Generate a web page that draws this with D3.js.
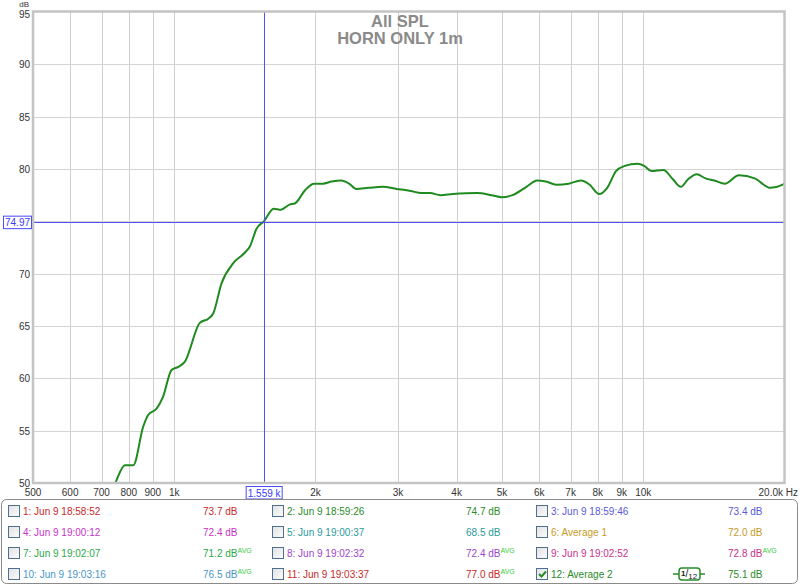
<!DOCTYPE html>
<html><head><meta charset="utf-8">
<script src="https://cdn.jsdelivr.net/npm/d3@7"></script>
<style>
html,body{margin:0;padding:0;background:#fff;}
svg{display:block;font-family:"Liberation Sans",Arial,sans-serif;}
</style></head>
<body>
<svg id="chart" width="800" height="586"></svg>
<script>
// ---- data ----
const freqHz = [700,729,754,785,818,859,880,917,946,987,1020,1054,1134,1182,1211,1262,1336,1414,1450,1498,1553,
  1629,1688,1761,1807,1903,1986,2074,2166,2269,2360,2443,2596,2782,2979,3192,3361,3510,3695,3924,4427,4744,4995,5261,
  5636,5938,6197,6527,6934,7361,7688,8053,8377,8746,9131,9704,10046,10396,11041,11523,12030,12450,13002,13575,14173,
  14922,15990,17279,18673,19836,20000];
const splDb = [45.5,48.5,50.3,51.7,51.7,55.4,56.5,57.1,58.2,60.8,61.1,61.6,65.3,65.7,66.2,69.1,71.0,72.0,72.6,74.3,75.0,
  76.2,76.1,76.6,76.7,78.0,78.6,78.6,78.8,78.9,78.6,78.1,78.2,78.3,78.1,77.9,77.7,77.7,77.5,77.6,77.7,77.5,77.3,77.5,
  78.3,78.9,78.8,78.5,78.6,78.9,78.5,77.6,78.2,79.8,80.3,80.5,80.3,79.8,79.9,79.1,78.3,79.0,79.5,79.1,78.9,
  78.6,79.4,79.1,78.2,78.5,78.6];
const xTickValues = [500,600,700,800,900,1000,2000,3000,4000,5000,6000,7000,8000,9000,10000];
const xTickLabels = ["500","600","700","800","900","1k","2k","3k","4k","5k","6k","7k","8k","9k","10k"];
const xGridValues = [600,700,800,900,1000,2000,3000,4000,5000,6000,7000,8000,9000,10000];
const yTickValues = [50,55,60,65,70,75,80,85,90,95];
const titleLines = ["All SPL","HORN ONLY 1m"];
const cursorFreq = 1559, cursorFreqLabel = "1.559 k";
const cursorDb = 74.97, cursorDbLabel = "74.97";
const legendLabels = ["1: Jun 9 18:58:52","2: Jun 9 18:59:26","3: Jun 9 18:59:46",
  "4: Jun 9 19:00:12","5: Jun 9 19:00:37","6: Average 1",
  "7: Jun 9 19:02:07","8: Jun 9 19:02:32","9: Jun 9 19:02:52",
  "10: Jun 9 19:03:16","11: Jun 9 19:03:37","12: Average 2"];
const legendValues = ["73.7 dB","74.7 dB","73.4 dB","72.4 dB","68.5 dB","72.0 dB",
  "71.2 dB","72.4 dB","72.8 dB","76.5 dB","77.0 dB","75.1 dB"];
const legendAvg = [false,false,false,false,false,false,true,true,true,true,true,false];
const legendChecked = [false,false,false,false,false,false,false,false,false,false,false,true];
const legendColors = ["#c8282a","#2a8a2a","#5a5ad8","#c832c8","#2a9a9a","#c89a28",
  "#2aa84a","#9a46c8","#c8328a","#4a96c8","#c82828","#2a8a2a"];

// ---- layout ----
const svg = d3.select("#chart");
const L = 33, R = 784.5, T = 12, B = 483;
const x = d3.scaleLog().domain([500,20000]).range([L,R]);
const y = d3.scaleLinear().domain([50,95]).range([B,T]);

// gridlines
svg.append("g").selectAll("line").data(xGridValues).join("line")
  .attr("x1",d=>Math.round(x(d))+0.5).attr("x2",d=>Math.round(x(d))+0.5)
  .attr("y1",T).attr("y2",B).attr("stroke","#cfcfcf").attr("stroke-width",1);
svg.append("g").selectAll("line").data(yTickValues.slice(1,-1)).join("line")
  .attr("x1",L).attr("x2",R)
  .attr("y1",d=>Math.round(y(d))+0.5).attr("y2",d=>Math.round(y(d))+0.5)
  .attr("stroke","#d4d4d4").attr("stroke-width",1);

// title
svg.append("g").selectAll("text").data(titleLines).join("text")
  .attr("x",400).attr("y",(d,i)=>27+i*16.5).attr("text-anchor","middle")
  .attr("font-size",16.5).attr("font-weight","bold").attr("fill","#8a8a8a").text(d=>d);

// curve
svg.append("clipPath").attr("id","clip").append("rect").attr("x",L).attr("y",T).attr("width",R-L).attr("height",B-T);
const pts = freqHz.map((f,i)=>[f,splDb[i]]);
svg.append("path").datum(pts).attr("clip-path","url(#clip)")
  .attr("d",d3.line().x(d=>x(d[0])).y(d=>y(d[1])).curve(d3.curveMonotoneX))
  .attr("fill","none").attr("stroke","#1f8a1f").attr("stroke-width",2);

// cursor lines
const cxr = Math.round(x(cursorFreq))-0.5;
svg.append("line").attr("x1",cxr).attr("x2",cxr)
  .attr("y1",T).attr("y2",B).attr("stroke","#5050ff").attr("stroke-width",1);
svg.append("line").attr("x1",L).attr("x2",R).attr("y1",Math.round(y(cursorDb))+0.5).attr("y2",Math.round(y(cursorDb))+0.5)
  .attr("stroke","#5050ff").attr("stroke-width",1);

// frame
svg.append("rect").attr("x",L).attr("y",T-0.5).attr("width",R-L).attr("height",B-T+0.5)
  .attr("fill","none").attr("stroke","#c4c4c4").attr("stroke-width",2.5);

// y axis labels (the 75 label is hidden under the cursor read-out, as in the reference)
svg.append("g").selectAll("text").data(yTickValues.filter(v=>Math.abs(y(v)-y(cursorDb))>8)).join("text")
  .attr("x",30).attr("y",d=>d===95 ? y(d)+6 : y(d)+4).attr("text-anchor","end")
  .attr("font-size",10).attr("fill","#333").text(d=>d);
svg.append("text").attr("x",29).attr("y",7.2).attr("text-anchor","end").attr("font-size",8).attr("fill","#333").text("dB");

// x axis labels
svg.append("g").selectAll("text").data(xTickValues).join("text")
  .attr("x",d=>x(d)).attr("y",496).attr("text-anchor","middle")
  .attr("font-size",10).attr("fill","#333").text((d,i)=>xTickLabels[i]);
svg.append("text").attr("x",798).attr("y",496).attr("text-anchor","end").attr("font-size",10).attr("fill","#333").text("20.0k Hz");

// cursor boxes
const cx = x(cursorFreq);
svg.append("rect").attr("x",cx-18.5).attr("y",486.5).attr("width",36).attr("height",12.5)
  .attr("fill","#fff").attr("stroke","#4a4aff").attr("stroke-width",1);
svg.append("text").attr("x",cx-0.5).attr("y",496.5).attr("text-anchor","middle").attr("font-size",10).attr("fill","#3a3aff").text(cursorFreqLabel);
const cy = y(cursorDb);
svg.append("rect").attr("x",3.5).attr("y",cy-5.5).attr("width",28).attr("height",12.5)
  .attr("fill","#fff").attr("stroke","#4a4aff").attr("stroke-width",1);
svg.append("text").attr("x",17.5).attr("y",cy+4.5).attr("text-anchor","middle").attr("font-size",10).attr("fill","#3a3aff").text(cursorDbLabel);

// legend
svg.append("rect").attr("x",1.5).attr("y",499.5).attr("width",796).attr("height",84).attr("rx",5)
  .attr("fill","#fff").attr("stroke","#8a8a8a").attr("stroke-width",1);
const colCheck = [8,272,536], colText = [23,287,551], colVal = [203,466,728];
const rowY = [511,532,553,574];
const grad = svg.append("defs").append("linearGradient").attr("id","cbg").attr("x1",0).attr("y1",0).attr("x2",1).attr("y2",1);
grad.append("stop").attr("offset","0%").attr("stop-color","#e0e0e0");
grad.append("stop").attr("offset","100%").attr("stop-color","#fdfdfd");
legendLabels.forEach((lab,i)=>{
  const r = Math.floor(i/3), c = i%3, yy = rowY[r];
  svg.append("rect").attr("x",colCheck[c]+0.5).attr("y",yy-5.5).attr("width",11).attr("height",11)
    .attr("fill","url(#cbg)").attr("stroke","#4f6f90").attr("stroke-width",1);
  if (legendChecked[i]) {
    svg.append("path").attr("d",`M${colCheck[c]+3},${yy} l2.5,2.5 l4.5,-5`)
      .attr("fill","none").attr("stroke","#2a8a2a").attr("stroke-width",2);
  }
  svg.append("text").attr("x",colText[c]).attr("y",yy+3.5).attr("font-size",10).attr("fill",legendColors[i]).text(lab);
  const t = svg.append("text").attr("x",colVal[c]).attr("y",yy+3.5).attr("font-size",10).attr("fill",legendColors[i]);
  t.append("tspan").text(legendValues[i]);
  if (legendAvg[i]) t.append("tspan").attr("dy",-4).attr("font-size",7).attr("fill","#3ccc3c").text("AVG");
});
// smoothing icon
const iy = rowY[3];
svg.append("line").attr("x1",673).attr("x2",705).attr("y1",iy).attr("y2",iy).attr("stroke","#2a8a2a").attr("stroke-width",1.5);
svg.append("rect").attr("x",679).attr("y",iy-6).attr("width",21).attr("height",12).attr("rx",3)
  .attr("fill","#fff").attr("stroke","#2a8a2a").attr("stroke-width",1.5);
const it = svg.append("text").attr("x",681).attr("y",iy+2).attr("font-size",8).attr("fill","#222").attr("font-weight","bold");
it.append("tspan").text("1");
it.append("tspan").attr("font-weight","normal").attr("font-size",10).attr("dy",1).text("/");
it.append("tspan").attr("font-weight","normal").attr("font-size",8).attr("dy",2).text("12");
</script>
</body></html>
